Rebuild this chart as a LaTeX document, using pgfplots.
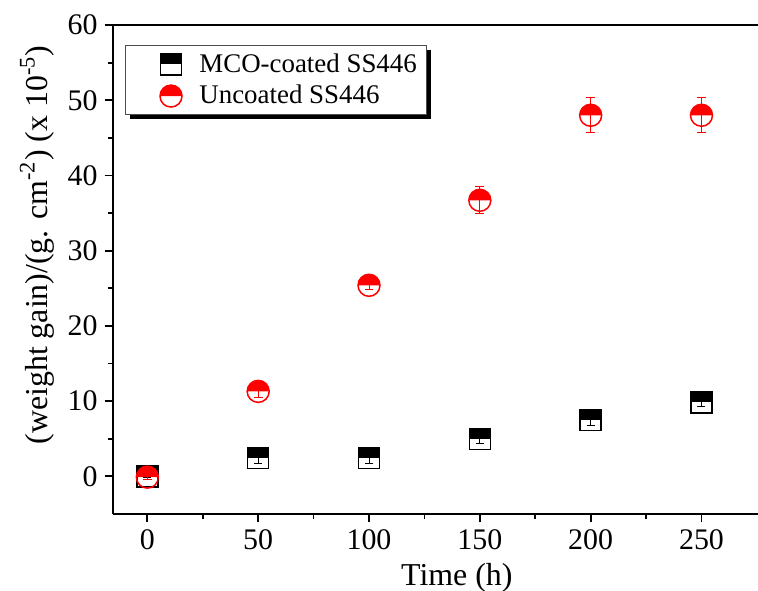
\documentclass[border=0pt]{standalone}
\usepackage{pgfplots}
\pgfplotsset{compat=1.18}
\usepackage{fontspec}
\setmainfont{Liberation Serif}
\usetikzlibrary{shadows}

\pgfdeclareplotmark{halfsquare}{%
  \pgfpathrectangle{\pgfpoint{-\pgfplotmarksize}{0pt}}{\pgfpoint{2\pgfplotmarksize}{\pgfplotmarksize}}%
  \pgfusepathqfill
  \pgfpathrectangle{\pgfpoint{-\pgfplotmarksize}{-\pgfplotmarksize}}{\pgfpoint{2\pgfplotmarksize}{2\pgfplotmarksize}}%
  \pgfusepathqstroke
}
\pgfdeclareplotmark{halfcircle}{%
  \pgfpathmoveto{\pgfpoint{\pgfplotmarksize}{0pt}}%
  \pgfpatharc{0}{180}{\pgfplotmarksize}%
  \pgfpathclose
  \pgfusepathqfill
  \pgfpathcircle{\pgfpointorigin}{\pgfplotmarksize}%
  \pgfusepathqstroke
}

\pgfplotstableread{
x y e
0 0.0 0.2
50 2.45 0.8
100 2.45 0.8
150 5.0 0.6
200 7.5 0.7
250 9.85 0.6
}\mco
\pgfplotstableread{
x y e
0 -0.1 0.3
50 11.3 0.8
100 25.4 0.5
150 36.7 1.8
200 48.0 2.3
250 48.0 2.3
}\unc

\begin{document}
\begin{tikzpicture}
\begin{axis}[
  name=ax,
  scale only axis,
  width=322.5bp, height=244.5bp,
  xmin=-15.5, xmax=275.5, ymin=-5, ymax=60,
  axis x line*=bottom, axis y line*=left,
  axis line style={line width=1bp, black},
  xtick={0,50,...,250}, ytick={0,10,...,60},
  minor x tick num=1, minor y tick num=1,
  tick align=outside,
  major tick length=4.2bp, minor tick length=2.5bp,
  every tick/.style={black, line width=0.9bp},
  tick label style={font=\fontsize{15}{18}\selectfont},
  /pgf/number format/assume math mode=true,
  xlabel={Time (h)},
  ylabel={(weight gain)/(g. cm\textsuperscript{-2}) (x 10\textsuperscript{-5})},
  label style={font=\fontsize{16}{19}\selectfont},
  xlabel style={at={(axis description cs:0.533,-0.131)}, anchor=center},
  ylabel style={at={(axis description cs:-0.118,0.55)}, anchor=center},
  legend cell align=left,
  legend image code/.code={\path (0,0) (1.1cm,0); \draw[#1, only marks] plot coordinates {(0.68cm,0cm)};},
  legend style={at={(axis description cs:0.019,0.959)}, anchor=north west,
    draw=black!70, line width=0.6bp, fill=white,
    drop shadow={shadow xshift=2bp, shadow yshift=-2bp, opacity=1, fill=black},
    font=\fontsize{13.5}{16}\selectfont, row sep=1bp, inner xsep=3bp},
]
\draw[line width=1bp, black] (rel axis cs:0,1) -- (rel axis cs:1,1);
\addplot[only marks, black, mark=halfsquare, mark size=5.25bp,
  mark options={draw=black, fill=black, line width=0.75bp},
  error bars/.cd, y dir=both, y explicit,
  error bar style={black, line width=0.5bp},
  error mark options={rotate=90, mark size=2bp, black, line width=0.5bp}]
  table[x=x, y=y, y error=e] {\mco};
\addlegendentry{MCO-coated SS446}
\addplot[only marks, red, mark=halfcircle, mark size=5.5bp,
  mark options={draw=red, fill=red, line width=0.75bp},
  error bars/.cd, y dir=both, y explicit,
  error bar style={red, line width=0.5bp},
  error mark options={rotate=90, mark size=2.2bp, red, line width=0.5bp}]
  table[x=x, y=y, y error=e] {\unc};
\addlegendentry{Uncoated SS446}
\end{axis}
\pgfresetboundingbox
\path ([shift={(-56.5bp,-38.5bp)}]ax.south west) rectangle ([shift={(0bp,12.5bp)}]ax.north east);
\end{tikzpicture}
\end{document}
